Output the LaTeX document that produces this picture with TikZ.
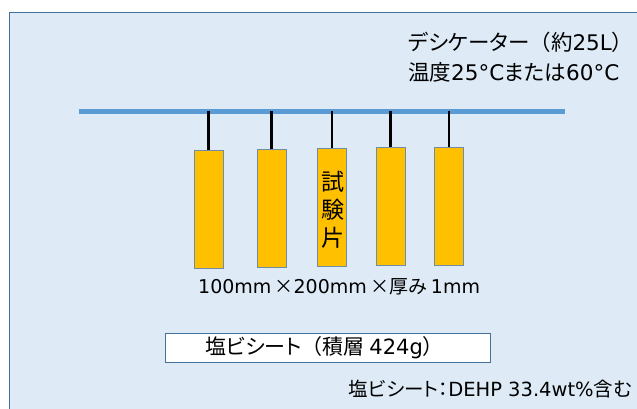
\documentclass[tikz,border=0pt]{standalone}
\usepackage{fontspec}
\setmainfont{Noto Sans CJK JP}[RawFeature=+palt]
\newfontfamily\fw{Noto Sans CJK JP}
\newfontfamily\lat{DejaVu Sans}
\definecolor{bgfill}{RGB}{222,235,247}
\definecolor{frame}{RGB}{65,113,156}
\definecolor{barcol}{RGB}{91,155,213}
\definecolor{specfill}{RGB}{255,192,0}
\definecolor{specline}{RGB}{110,140,170}
\begin{document}
\begin{tikzpicture}[x=1pt,y=-1pt,
  specimen/.style={draw=specline, line width=0.8pt, fill=specfill, minimum width=29pt, minimum height=118pt, anchor=north, inner sep=0pt},
  hanger/.style={line width=2.5pt, black},
  barline/.style={line width=5pt, barcol},
  lbl/.style={inner sep=0pt, text=black}]
\useasboundingbox (0,0) rectangle (637,408);
\begin{scope}
\clip (0,0) rectangle (637,408);
\fill[white] (0,0) rectangle (637,408);
\draw[draw=frame, fill=bgfill, line width=1pt] (9.5,12) rectangle (660,430);
\end{scope}
% bar
\coordinate (barL) at (79,111);
\coordinate (barR) at (565,111);
\draw[barline] (barL) -- (barR);
% specimens
\node[specimen] (s1) at (208.5,150) {};
\node[specimen] (s2) at (271.5,149) {};
\node[specimen] (s3) at (332,148) {};
\node[specimen] (s4) at (390.5,147) {};
\node[specimen] (s5) at (449,147) {};
\foreach \s in {s1,s2,s3,s4,s5}
  \draw[hanger] (\s.north) -- (\s.north |- barL);
\node[lbl, font=\fontsize{23}{28}\selectfont, align=center] (tp) at (332.5,210) {試\\験\\片};
% texts
\node[lbl, anchor=west, font=\fontsize{21.5}{26}\selectfont] (t1) at (408,42) {デシケーター{\fw （}約{\lat 25L}{\fw ）}};
\node[lbl, anchor=west, font=\fontsize{21.5}{26}\selectfont] (t2) at (408,72) {温度{\lat 25°C}または{\lat 60°C}};
\node[lbl, anchor=west, font=\fontsize{19}{22}\selectfont] (dim) at (198,287) {{\lat 100mm}\,{\fw ×}{\lat 200mm}\,{\fw ×}厚み {\lat 1mm}};
\node[draw=frame, fill=white, line width=0.8pt, minimum width=325pt, minimum height=29pt, inner sep=0pt] (sheet) at (327.5,347.5) {};
\node[lbl, anchor=west, font=\fontsize{21}{24}\selectfont] (sheettxt) at (205,347.5) {塩ビシート{\fw （}積層 {\lat 424g}{\fw ）}};
\node[lbl, anchor=east, font=\fontsize{19.5}{22}\selectfont] (note) at (632,389) {塩ビシート：{\lat DEHP 33.4wt\%}含む};
\end{tikzpicture}
\end{document}
